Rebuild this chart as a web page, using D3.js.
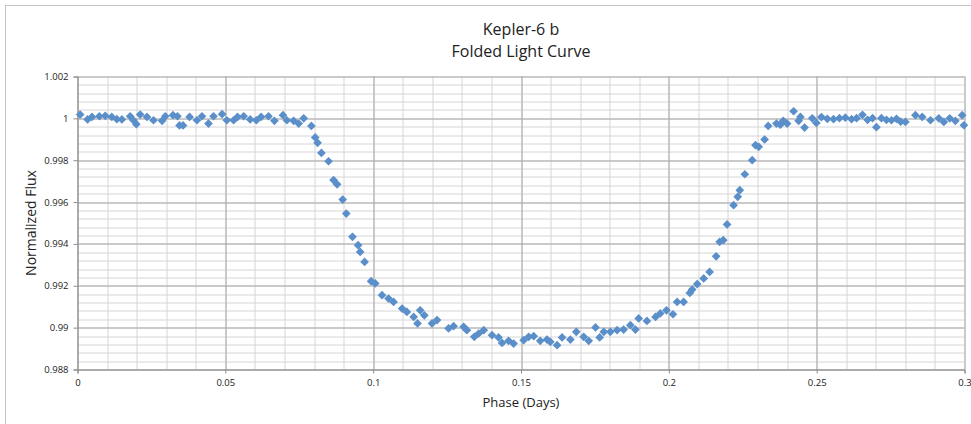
<!DOCTYPE html>
<html>
<head>
<meta charset="utf-8">
<script src="https://cdn.jsdelivr.net/npm/d3@7"></script>
<style>
  html, body { margin: 0; padding: 0; background: #fff; }
  svg { display: block; }
  text { font-family: "Open Sans", Lato, sans-serif; fill: #222; }
</style>
</head>
<body>
<svg id="chart" width="971" height="424"></svg>
<script>

var titleLines = ['Kepler-6 b', 'Folded Light Curve'],
    xLabel = 'Phase (Days)',
    yLabel = 'Normalized Flux';

var xTicks = [0, 0.05, 0.1, 0.15, 0.2, 0.25, 0.3],
    yTicks = [0.988, 0.99, 0.992, 0.994, 0.996, 0.998, 1, 1.002];

// folded light curve
var phase = [
    0.0009, 0.0034, 0.0049, 0.0074, 0.0094, 0.0116, 0.0133, 0.0150, 0.0178, 0.0189,
    0.0199, 0.0212, 0.0235, 0.0257, 0.0286, 0.0297, 0.0323, 0.0338, 0.0345, 0.0357,
    0.0379, 0.0404, 0.0421, 0.0443, 0.0460, 0.0489, 0.0505, 0.0528, 0.0541, 0.0562,
    0.0584, 0.0605, 0.0621, 0.0646, 0.0666, 0.0695, 0.0708, 0.0731, 0.0748, 0.0765,
    0.0791, 0.0804, 0.0812, 0.0825, 0.0849, 0.0866, 0.0878, 0.0897, 0.0909, 0.0930,
    0.0949, 0.0956, 0.0971, 0.0993, 0.1007, 0.1030, 0.1052, 0.1069, 0.1098, 0.1114,
    0.1137, 0.1150, 0.1159, 0.1173, 0.1199, 0.1216, 0.1255, 0.1272, 0.1306, 0.1317,
    0.1342, 0.1357, 0.1374, 0.1402, 0.1424, 0.1436, 0.1458, 0.1475, 0.1509, 0.1526,
    0.1543, 0.1565, 0.1588, 0.1599, 0.1622, 0.1639, 0.1667, 0.1687, 0.1712, 0.1729,
    0.1752, 0.1766, 0.1780, 0.1802, 0.1825, 0.1847, 0.1870, 0.1887, 0.1898, 0.1926,
    0.1955, 0.1971, 0.1992, 0.2014, 0.2028, 0.2050, 0.2071, 0.2079, 0.2096, 0.2118,
    0.2138, 0.2160, 0.2172, 0.2184, 0.2197, 0.2219, 0.2233, 0.2240, 0.2257, 0.2282,
    0.2293, 0.2304, 0.2324, 0.2336, 0.2364, 0.2377, 0.2387, 0.2400, 0.2422, 0.2439,
    0.2445, 0.2459, 0.2485, 0.2499, 0.2516, 0.2536, 0.2557, 0.2577, 0.2597, 0.2618,
    0.2635, 0.2655, 0.2672, 0.2689, 0.2702, 0.2719, 0.2736, 0.2753, 0.2770, 0.2784,
    0.2800, 0.2834, 0.2857, 0.2885, 0.2913, 0.2930, 0.2950, 0.2969, 0.2992, 0.2998
];

var flux = [
    1.00018, 0.99995, 1.00007, 1.00010, 1.00012, 1.00007, 0.99996, 0.99995, 1.00010, 0.99991,
    0.99972, 1.00018, 1.00007, 0.99991, 0.99988, 1.00010, 1.00015, 1.00010, 0.99966, 0.99966,
    1.00007, 0.99991, 1.00010, 0.99975, 1.00010, 1.00020, 0.99991, 0.99991, 1.00007, 1.00010,
    0.99995, 0.99991, 1.00007, 1.00010, 0.99988, 1.00015, 0.99991, 0.99988, 0.99975, 1.00000,
    0.99964, 0.99909, 0.99883, 0.99835, 0.99795, 0.99705, 0.99685, 0.99612, 0.99545, 0.99434,
    0.99394, 0.99362, 0.99314, 0.99222, 0.99211, 0.99155, 0.99139, 0.99123, 0.99091, 0.99075,
    0.99051, 0.99020, 0.99083, 0.99059, 0.99020, 0.99036, 0.98996, 0.99007, 0.99004, 0.98988,
    0.98956, 0.98972, 0.98988, 0.98964, 0.98953, 0.98927, 0.98937, 0.98924, 0.98940, 0.98956,
    0.98959, 0.98937, 0.98943, 0.98932, 0.98916, 0.98953, 0.98943, 0.98980, 0.98956, 0.98937,
    0.99001, 0.98953, 0.98980, 0.98980, 0.98988, 0.98991, 0.99012, 0.98991, 0.99044, 0.99032,
    0.99051, 0.99068, 0.99083, 0.99064, 0.99123, 0.99123, 0.99166, 0.99182, 0.99208, 0.99235,
    0.99266, 0.99341, 0.99410, 0.99418, 0.99493, 0.99585, 0.99625, 0.99657, 0.99733, 0.99800,
    0.99872, 0.99864, 0.99899, 0.99964, 0.99975, 0.99970, 0.99988, 0.99975, 1.00034, 0.99988,
    1.00007, 0.99956, 1.00000, 0.99978, 1.00006, 0.99998, 0.99996, 1.00001, 1.00003, 0.99996,
    1.00001, 1.00017, 0.99993, 1.00001, 0.99958, 1.00001, 0.99993, 0.99991, 0.99998, 0.99984,
    0.99983, 1.00015, 1.00007, 0.99991, 1.00000, 0.99983, 1.00000, 0.99988, 1.00015, 0.99967
];

var points = phase.map(function (p, i) { return { x: p, y: flux[i] }; });

var margin = { top: 76.5, left: 77.5 },
    plotW = 964.5 - margin.left,
    plotH = 369.5 - margin.top;

var svg = d3.select('#chart');

// outer chart frame (runs off the right and bottom edges)
svg.append('rect')
    .attr('x', 5.5)
    .attr('y', 5.5)
    .attr('width', 1200)
    .attr('height', 1200)
    .attr('fill', 'none')
    .attr('stroke', '#c4c4c4');

var xScale = d3.scaleLinear().domain([0, 0.3]).range([0, plotW]),
    yScale = d3.scaleLinear().domain([0.988, 1.002]).range([plotH, 0]);

var g = svg.append('g')
    .attr('transform', 'translate(' + margin.left + ',' + margin.top + ')');

function hLines (values, colour) {
    g.append('g').selectAll('line')
        .data(values)
        .enter().append('line')
        .attr('x1', 0).attr('x2', plotW)
        .attr('y1', function (d) { return Math.round(yScale(d)) + 0.5; })
        .attr('y2', function (d) { return Math.round(yScale(d)) + 0.5; })
        .attr('stroke', colour);
}

function vLines (values, colour) {
    g.append('g').selectAll('line')
        .data(values)
        .enter().append('line')
        .attr('y1', 0).attr('y2', plotH)
        .attr('x1', function (d) { return Math.round(xScale(d)) + 0.5; })
        .attr('x2', function (d) { return Math.round(xScale(d)) + 0.5; })
        .attr('stroke', colour);
}

// minor grid, then major grid on top
hLines(d3.range(0, 36).map(function (i) { return 0.988 + i * 0.0004; }), '#d6d6d6');
vLines(d3.range(0, 31).map(function (i) { return i / 100; }), '#d6d6d6');
hLines(yTicks, '#a9a9a9');
vLines(xTicks, '#a9a9a9');

// axes
var xAxis = d3.axisBottom(xScale)
        .tickValues(xTicks)
        .tickSize(4)
        .tickPadding(6)
        .tickFormat(function (d) { return String(+d.toFixed(2)); }),
    yAxis = d3.axisLeft(yScale)
        .tickValues(yTicks)
        .tickSize(4)
        .tickPadding(5)
        .tickFormat(function (d) { return String(+d.toFixed(3)); });

var gx = g.append('g')
    .attr('transform', 'translate(0,' + plotH + ')')
    .call(xAxis);

var gy = g.append('g').call(yAxis);

[gx, gy].forEach(function (a) {
    a.select('.domain').attr('stroke', '#8c8c8c');
    a.selectAll('.tick line').attr('stroke', '#8c8c8c');
    a.selectAll('.tick text')
        .attr('font-family', '"Open Sans", Lato, sans-serif')
        .attr('font-size', 9.5)
        .attr('fill', '#222');
});

// markers
var diamond = d3.symbol().type(d3.symbolSquare).size(38);

g.append('g').selectAll('path')
    .data(points)
    .enter().append('path')
    .attr('d', diamond)
    .attr('transform', function (d) {
        return 'translate(' + xScale(d.x) + ',' + yScale(d.y) + ') rotate(45)';
    })
    .attr('fill', '#5b8fca');

// titles
svg.append('g').selectAll('text')
    .data(titleLines)
    .enter().append('text')
    .attr('x', margin.left + plotW / 2)
    .attr('y', function (d, i) { return 35 + i * 21.5; })
    .attr('text-anchor', 'middle')
    .attr('font-size', 16)
    .text(function (d) { return d; });

svg.append('text')
    .attr('x', margin.left + plotW / 2)
    .attr('y', 407)
    .attr('text-anchor', 'middle')
    .attr('font-size', 13)
    .text(xLabel);

svg.append('text')
    .attr('transform', 'translate(36,' + (margin.top + plotH / 2) + ') rotate(-90)')
    .attr('text-anchor', 'middle')
    .attr('font-size', 14)
    .text(yLabel);

</script>
</body>
</html>
